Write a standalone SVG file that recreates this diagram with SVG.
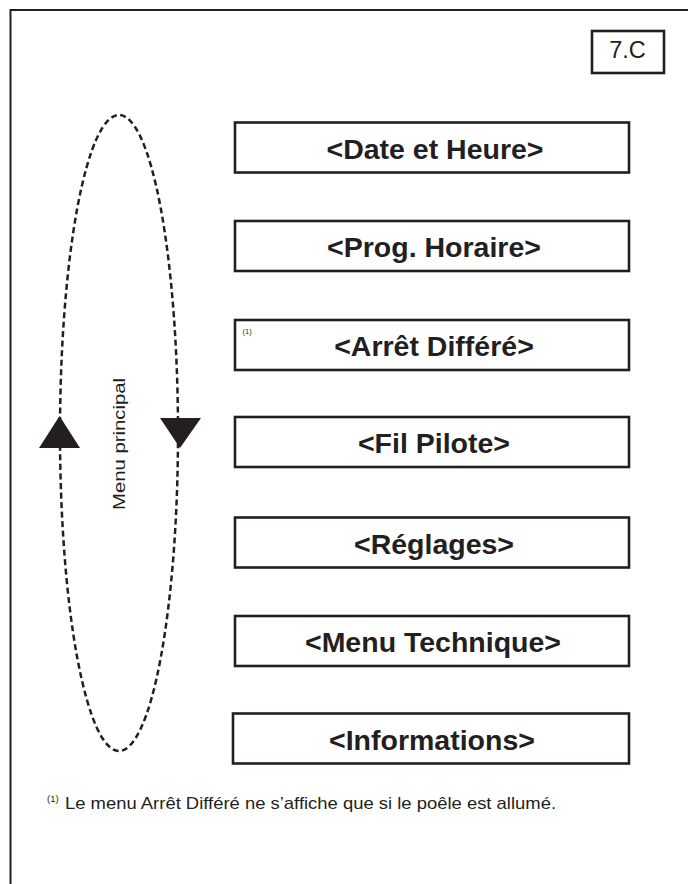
<svg xmlns="http://www.w3.org/2000/svg" width="688" height="884" viewBox="0 0 688 884">
<style>
.frame{fill:none;stroke:#231f20;stroke-width:2}
.box{fill:#fff;stroke:#231f20;stroke-width:2.6}
.lbl{font-family:"Liberation Sans",Arial,sans-serif;font-weight:bold;font-size:28.5px;fill:#231f20;text-anchor:middle}
.reg{font-family:"Liberation Sans",Arial,sans-serif;fill:#231f20}
.loop{fill:none;stroke:#231f20;stroke-width:2.5;stroke-dasharray:6 3.5}
.arr{fill:#231f20}
</style>
<rect width="688" height="884" fill="#fff"/>
<path class="frame" d="M10.5,884 V10 H688"/>
<g id="ref">
<rect class="box" x="592" y="31" width="72" height="42"/>
<text class="reg" x="627.5" y="58" font-size="23.5" text-anchor="middle">7.C</text>
</g>
<g id="connectors">
<ellipse class="loop" cx="119" cy="433" rx="59" ry="318"/>
<polygon class="arr" points="59.5,416 39,448 80,448"/>
<polygon class="arr" points="160,418 201,418 180,448"/>
<text class="reg" transform="translate(124.5,444) rotate(-90)" font-size="16" text-anchor="middle" textLength="132" lengthAdjust="spacingAndGlyphs">Menu principal</text>
</g>
<g id="n1"><rect class="box" x="235" y="122.5" width="394" height="50"/><text class="lbl" x="435" y="158.5">&lt;Date et Heure&gt;</text></g>
<g id="n2"><rect class="box" x="235" y="221" width="394" height="50"/><text class="lbl" x="434" y="257">&lt;Prog. Horaire&gt;</text></g>
<g id="n3"><rect class="box" x="235" y="320" width="394" height="50"/><text class="lbl" x="434" y="356">&lt;Arrêt Différé&gt;</text><text class="reg" x="242.5" y="334" font-size="7.5">(1)</text></g>
<g id="n4"><rect class="box" x="235" y="417" width="394" height="50"/><text class="lbl" x="434" y="453">&lt;Fil Pilote&gt;</text></g>
<g id="n5"><rect class="box" x="235" y="517.5" width="394" height="50"/><text class="lbl" x="434" y="553.5">&lt;Réglages&gt;</text></g>
<g id="n6"><rect class="box" x="235" y="616" width="394" height="50"/><text class="lbl" x="433" y="652">&lt;Menu Technique&gt;</text></g>
<g id="n7"><rect class="box" x="233" y="713.5" width="396" height="50"/><text class="lbl" x="432" y="750">&lt;Informations&gt;</text></g>
<g id="note">
<text class="reg" x="47" y="802" font-size="9.5">(1)</text>
<text class="reg" x="65" y="809" font-size="17" textLength="491" lengthAdjust="spacingAndGlyphs">Le menu Arrêt Différé ne s’affiche que si le poêle est allumé.</text>
</g>
</svg>
